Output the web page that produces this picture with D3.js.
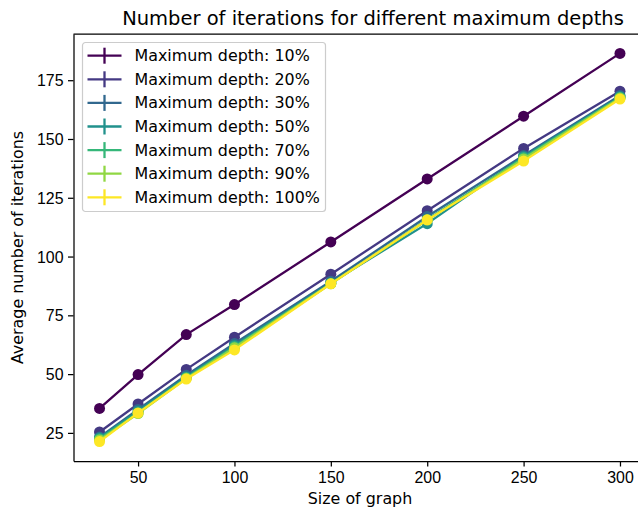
<!DOCTYPE html>
<html>
<head>
<meta charset="utf-8">
<script src="https://cdn.jsdelivr.net/npm/d3@7"></script>
<style>
  body { margin: 0; background: #fff; }
  svg { font-family: "DejaVu Sans", sans-serif; }
  .axis text { font-size: 15.9px; fill: #000; }
  .axis path, .axis line { stroke: #000; stroke-width: 1.25px; }
</style>
</head>
<body>
<div id="chart"></div>
<script>
// graph sizes on the x axis
const sizes = [30, 50, 75, 100, 150, 200, 250, 300];

// legend labels, one per series
const depthLabels = ["10%", "20%", "30%", "50%", "70%", "90%", "100%"];

// average iterations, one array per maximum depth
const depth10 = [35.4, 49.8, 66.8, 79.6, 106.2, 133.0, 159.7, 186.4];
const depth20 = [25.4, 37.3, 52.0, 65.7, 92.5, 119.5, 146.0, 170.3];
const depth30 = [23.2, 35.0, 49.5, 63.0, 89.5, 117.0, 143.0, 168.5];
const depth50 = [22.8, 34.2, 48.8, 62.2, 88.8, 114.0, 142.5, 168.0];
const depth70 = [22.4, 33.6, 48.4, 61.6, 88.5, 115.8, 142.0, 167.6];
const depth90 = [22.0, 33.2, 48.2, 61.2, 88.4, 115.5, 141.5, 167.4];
const depth100 = [21.3, 33.5, 47.9, 60.3, 88.4, 115.6, 140.6, 167.0];

const xTicks = [50, 100, 150, 200, 250, 300];
const yTicks = [25, 50, 75, 100, 125, 150, 175];

(() => {
  let width = 638;
  let height = 511;

  // plot box (right edge is cut off by the figure)
  let left = 73.5, right = 646, top = 34, bottom = 461;

  let allSeries = [depth10, depth20, depth30, depth50, depth70, depth90, depth100];
  let color = d3.scaleOrdinal()
    .domain(depthLabels)
    .range(depthLabels.map((d, i) => d3.interpolateViridis(i / (depthLabels.length - 1))));

  let svg = d3.select("#chart").append("svg")
    .attr("width", width)
    .attr("height", height);

  // 5% margins like matplotlib
  let xMin = d3.min(sizes), xMax = d3.max(sizes);
  let xPad = (xMax - xMin) * 0.05;
  let x = d3.scaleLinear().domain([xMin - xPad, xMax + xPad]).range([left, right]);

  let yMin = d3.min(allSeries, s => d3.min(s)), yMax = d3.max(allSeries, s => d3.max(s));
  let yPad = (yMax - yMin) * 0.05;
  let y = d3.scaleLinear().domain([yMin - yPad, yMax + yPad]).range([bottom, top]);

  // axes
  svg.append("g")
    .attr("class", "axis")
    .attr("transform", `translate(0,${bottom})`)
    .call(d3.axisBottom(x).tickValues(xTicks).tickSize(5.5).tickPadding(4.5).tickSizeOuter(0))
    .selectAll("text").attr("dy", "0.75em");

  svg.append("g")
    .attr("class", "axis")
    .attr("transform", `translate(${left},0)`)
    .call(d3.axisLeft(y).tickValues(yTicks).tickSize(5.5).tickPadding(4.5).tickSizeOuter(0))
    .selectAll("text").attr("dy", "0.35em");

  // top + right spines
  svg.append("line").attr("x1", left).attr("x2", right).attr("y1", top).attr("y2", top)
    .attr("stroke", "#000").attr("stroke-width", 1.25);
  svg.append("line").attr("x1", right).attr("x2", right).attr("y1", top).attr("y2", bottom)
    .attr("stroke", "#000").attr("stroke-width", 1.25);

  // series
  let line = d3.line().x((d, i) => x(sizes[i])).y(d => y(d));
  allSeries.forEach((s, k) => {
    let g = svg.append("g").attr("class", "series");
    g.append("path")
      .datum(s)
      .attr("d", line)
      .attr("fill", "none")
      .attr("stroke", color(depthLabels[k]))
      .attr("stroke-width", 2.3);
    g.selectAll("circle")
      .data(s)
      .enter()
      .append("circle")
      .attr("cx", (d, i) => x(sizes[i]))
      .attr("cy", d => y(d))
      .attr("r", 5.5)
      .attr("fill", color(depthLabels[k]));
  });

  // title and labels
  svg.append("text")
    .attr("x", 373).attr("y", 25)
    .attr("text-anchor", "middle")
    .style("font-size", "19.5px")
    .text("Number of iterations for different maximum depths");

  svg.append("text")
    .attr("x", 360).attr("y", 504)
    .attr("text-anchor", "middle")
    .style("font-size", "15.9px")
    .text("Size of graph");

  svg.append("text")
    .attr("transform", `translate(23,${(top + bottom) / 2}) rotate(-90)`)
    .attr("text-anchor", "middle")
    .style("font-size", "15.9px")
    .text("Average number of iterations");

  // legend
  let legend = svg.append("g").attr("transform", "translate(82.5,42.5)");
  legend.append("rect")
    .attr("width", 243).attr("height", 169)
    .attr("rx", 3)
    .attr("fill", "#fff").attr("fill-opacity", 0.8)
    .attr("stroke", "#ccc").attr("stroke-width", 1.2);

  depthLabels.forEach((lab, k) => {
    let row = legend.append("g").attr("transform", `translate(0,${13.2 + k * 23.6})`);
    row.append("line").attr("x1", 5).attr("x2", 39).attr("y1", 0).attr("y2", 0)
      .attr("stroke", color(lab)).attr("stroke-width", 2.3);
    row.append("line").attr("x1", 22).attr("x2", 22).attr("y1", -8).attr("y2", 8)
      .attr("stroke", color(lab)).attr("stroke-width", 2.3);
    row.append("text").attr("x", 52).attr("y", 0).attr("dy", "0.35em")
      .style("font-size", "15.9px")
      .text("Maximum depth: " + lab);
  });
})();
</script>
</body>
</html>
